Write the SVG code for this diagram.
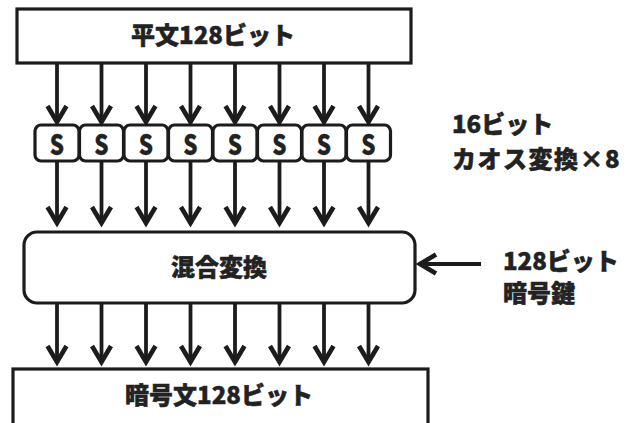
<svg xmlns="http://www.w3.org/2000/svg" width="638" height="423" viewBox="0 0 638 423">
<style>
.box{fill:#fff;stroke:#1c1c1c;stroke-width:3.2}
.t{font-family:"Noto Sans CJK JP","Noto Sans",sans-serif;font-weight:900;font-size:24px;fill:#222;stroke:#222;stroke-width:0.5}
.s{font-size:28px;stroke-width:0.3}
.m{text-anchor:middle}
.ln{stroke:#1c1c1c;stroke-width:3.8;fill:none}
.hd{stroke:#1c1c1c;stroke-width:4.6;fill:none;stroke-linejoin:miter;stroke-linecap:butt}
</style>
<defs>
<g id="arr1">
<line class="ln" x1="0" y1="0" x2="0" y2="58"/>
<path class="hd" d="M-9.5,-18 L0,-2 L9.5,-18" transform="translate(0,61)"/>
</g>
<g id="arr2">
<line class="ln" x1="0" y1="0" x2="0" y2="60"/>
<path class="hd" d="M-9.5,-18 L0,-2 L9.5,-18" transform="translate(0,63)"/>
</g>
</defs>
<g id="plaintext">
<rect class="box" x="17" y="9" width="394" height="54"/>
<text class="t m" x="213" y="44">平文128ビット</text>
</g>
<g id="sboxes">
<rect class="box" x="35" y="125" width="44" height="36" rx="6"/>
<rect class="box" x="79.5" y="125" width="44" height="36" rx="6"/>
<rect class="box" x="124" y="125" width="44" height="36" rx="6"/>
<rect class="box" x="168.5" y="125" width="44" height="36" rx="6"/>
<rect class="box" x="213" y="125" width="44" height="36" rx="6"/>
<rect class="box" x="257.5" y="125" width="44" height="36" rx="6"/>
<rect class="box" x="302" y="125" width="44" height="36" rx="6"/>
<rect class="box" x="346.5" y="125" width="44" height="36" rx="6"/>
<text class="t s m" transform="translate(57,155) scale(0.8,1)">S</text>
<text class="t s m" transform="translate(101.5,155) scale(0.8,1)">S</text>
<text class="t s m" transform="translate(146,155) scale(0.8,1)">S</text>
<text class="t s m" transform="translate(190.5,155) scale(0.8,1)">S</text>
<text class="t s m" transform="translate(235,155) scale(0.8,1)">S</text>
<text class="t s m" transform="translate(279.5,155) scale(0.8,1)">S</text>
<text class="t s m" transform="translate(324,155) scale(0.8,1)">S</text>
<text class="t s m" transform="translate(368.5,155) scale(0.8,1)">S</text>
</g>
<g id="mixing">
<rect class="box" x="24" y="232" width="391" height="71" rx="13"/>
<text class="t m" x="219" y="276">混合変換</text>
</g>
<g id="ciphertext">
<rect class="box" x="13" y="369" width="415" height="56"/>
<text class="t m" x="219" y="404">暗号文128ビット</text>
</g>
<g id="label-chaos">
<text class="t" x="452" y="133">16ビット</text>
<text class="t" x="452" y="168" letter-spacing="1.5">カオス変換×8</text>
</g>
<g id="label-key">
<text class="t" x="503" y="270">128ビット</text>
<text class="t" x="503" y="302">暗号鍵</text>
</g>
<g id="connectors">
<use href="#arr1" x="57" y="63"/>
<use href="#arr1" x="101.5" y="63"/>
<use href="#arr1" x="146" y="63"/>
<use href="#arr1" x="190.5" y="63"/>
<use href="#arr1" x="235" y="63"/>
<use href="#arr1" x="279.5" y="63"/>
<use href="#arr1" x="324" y="63"/>
<use href="#arr1" x="368.5" y="63"/>
<use href="#arr2" x="57" y="162"/>
<use href="#arr2" x="101.5" y="162"/>
<use href="#arr2" x="146" y="162"/>
<use href="#arr2" x="190.5" y="162"/>
<use href="#arr2" x="235" y="162"/>
<use href="#arr2" x="279.5" y="162"/>
<use href="#arr2" x="324" y="162"/>
<use href="#arr2" x="368.5" y="162"/>
<use href="#arr1" x="57" y="303"/>
<use href="#arr1" x="101.5" y="303"/>
<use href="#arr1" x="146" y="303"/>
<use href="#arr1" x="190.5" y="303"/>
<use href="#arr1" x="235" y="303"/>
<use href="#arr1" x="279.5" y="303"/>
<use href="#arr1" x="324" y="303"/>
<use href="#arr1" x="368.5" y="303"/>
<line class="ln" x1="481" y1="264" x2="421" y2="264"/>
<path class="hd" d="M436,254.5 L420,264 L436,273.5"/>
</g>
</svg>
